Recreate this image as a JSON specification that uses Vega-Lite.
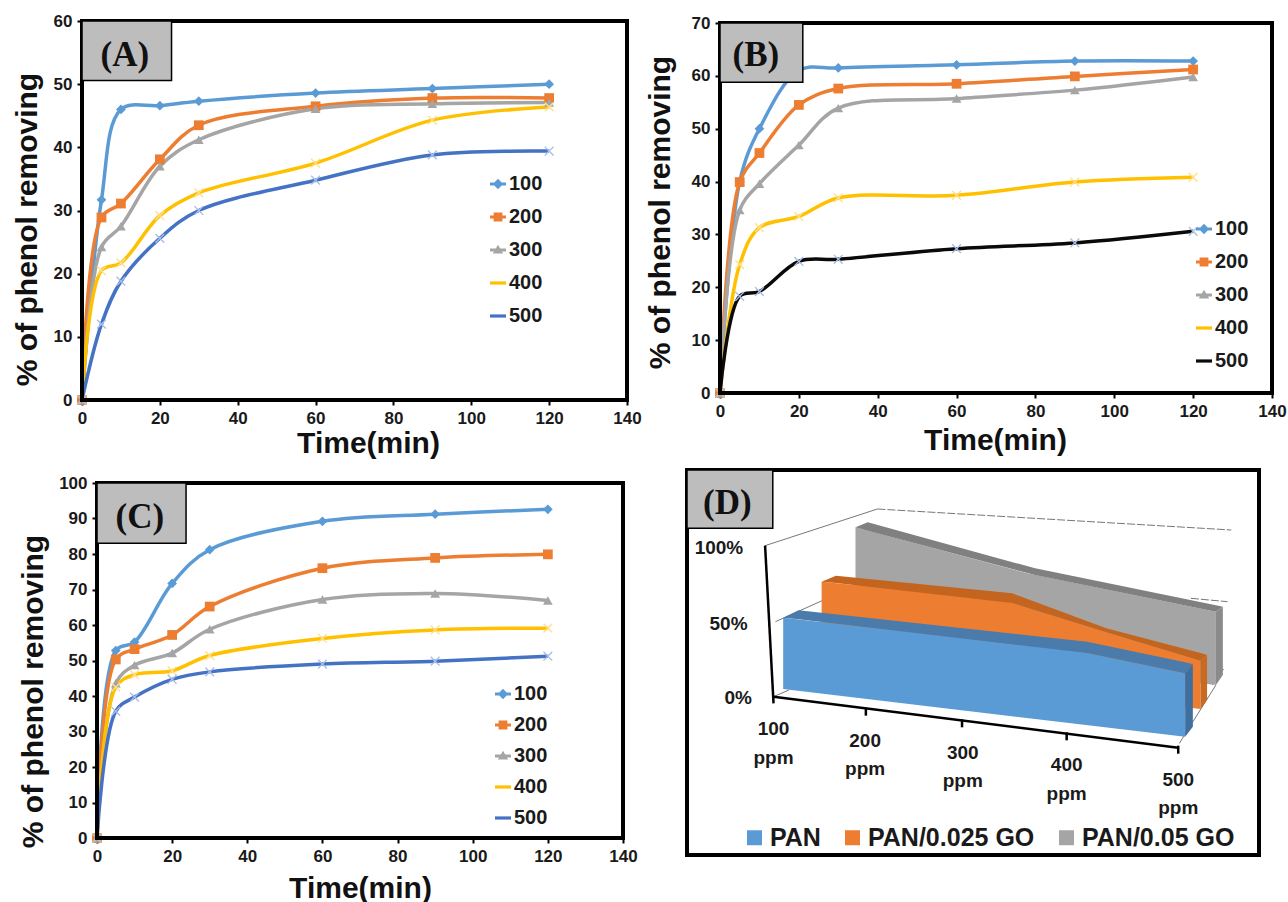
{
"$schema":"https://vega.github.io/schema/vega-lite/v6.json",
"background":"white",
"padding":{"left":12,"top":12,"right":0,"bottom":0},
"bounds":"flush",
"columns":2,
"spacing":{"row":70,"column":60},
"config":{
 "view":{"stroke":null},
 "font":"Liberation Sans",
 "axis":{"grid":false,"domain":false,"labelFont":"Liberation Sans","labelFontWeight":"bold","labelFontSize":17,"labelColor":"#1a1a1a","tickColor":"#000","tickSize":5,"tickWidth":2,"labelPadding":5,"labelFlush":false,"labelOverlap":false,"titleFont":"Liberation Sans","titleFontWeight":"bold","titleFontSize":30,"titleColor":"#111","titleAlign":"center","titleBaseline":"middle"},
 "legend":{"title":null,"orient":"none","labelFont":"Liberation Sans","labelFontWeight":"bold","labelFontSize":20,"labelColor":"#1a1a1a","labelLimit":400,"symbolSize":256,"symbolStrokeWidth":0,"labelOffset":1}
},
"datasets":{
"curves":[
{"panel":"A","series":"100","t":0,"v":0},{"panel":"A","series":"100","t":5,"v":31.7},{"panel":"A","series":"100","t":10,"v":46},{"panel":"A","series":"100","t":20,"v":46.6},{"panel":"A","series":"100","t":30,"v":47.3},{"panel":"A","series":"100","t":60,"v":48.6},{"panel":"A","series":"100","t":90,"v":49.3},{"panel":"A","series":"100","t":120,"v":50},
{"panel":"A","series":"200","t":0,"v":0},{"panel":"A","series":"200","t":5,"v":28.9},{"panel":"A","series":"200","t":10,"v":31.1},{"panel":"A","series":"200","t":20,"v":38.1},{"panel":"A","series":"200","t":30,"v":43.5},{"panel":"A","series":"200","t":60,"v":46.5},{"panel":"A","series":"200","t":90,"v":47.8},{"panel":"A","series":"200","t":120,"v":47.8},
{"panel":"A","series":"300","t":0,"v":0},{"panel":"A","series":"300","t":5,"v":24.2},{"panel":"A","series":"300","t":10,"v":27.5},{"panel":"A","series":"300","t":20,"v":37},{"panel":"A","series":"300","t":30,"v":41.2},{"panel":"A","series":"300","t":60,"v":46.1},{"panel":"A","series":"300","t":90,"v":46.9},{"panel":"A","series":"300","t":120,"v":47.1},
{"panel":"A","series":"400","t":0,"v":0},{"panel":"A","series":"400","t":5,"v":20.5},{"panel":"A","series":"400","t":10,"v":21.7},{"panel":"A","series":"400","t":20,"v":29.2},{"panel":"A","series":"400","t":30,"v":32.8},{"panel":"A","series":"400","t":60,"v":37.5},{"panel":"A","series":"400","t":90,"v":44.3},{"panel":"A","series":"400","t":120,"v":46.4},
{"panel":"A","series":"500","t":0,"v":0},{"panel":"A","series":"500","t":5,"v":12},{"panel":"A","series":"500","t":10,"v":18.8},{"panel":"A","series":"500","t":20,"v":25.6},{"panel":"A","series":"500","t":30,"v":30},{"panel":"A","series":"500","t":60,"v":34.8},{"panel":"A","series":"500","t":90,"v":38.8},{"panel":"A","series":"500","t":120,"v":39.4},
{"panel":"B","series":"100","t":0,"v":0},{"panel":"B","series":"100","t":5,"v":40},{"panel":"B","series":"100","t":10,"v":50},{"panel":"B","series":"100","t":20,"v":61},{"panel":"B","series":"100","t":30,"v":61.5},{"panel":"B","series":"100","t":60,"v":62.1},{"panel":"B","series":"100","t":90,"v":62.8},{"panel":"B","series":"100","t":120,"v":62.8},
{"panel":"B","series":"200","t":0,"v":0},{"panel":"B","series":"200","t":5,"v":39.9},{"panel":"B","series":"200","t":10,"v":45.4},{"panel":"B","series":"200","t":20,"v":54.5},{"panel":"B","series":"200","t":30,"v":57.6},{"panel":"B","series":"200","t":60,"v":58.5},{"panel":"B","series":"200","t":90,"v":59.9},{"panel":"B","series":"200","t":120,"v":61.2},
{"panel":"B","series":"300","t":0,"v":0},{"panel":"B","series":"300","t":5,"v":34.6},{"panel":"B","series":"300","t":10,"v":39.6},{"panel":"B","series":"300","t":20,"v":46.9},{"panel":"B","series":"300","t":30,"v":53.9},{"panel":"B","series":"300","t":60,"v":55.7},{"panel":"B","series":"300","t":90,"v":57.3},{"panel":"B","series":"300","t":120,"v":59.8},
{"panel":"B","series":"400","t":0,"v":0},{"panel":"B","series":"400","t":5,"v":24.3},{"panel":"B","series":"400","t":10,"v":31.3},{"panel":"B","series":"400","t":20,"v":33.4},{"panel":"B","series":"400","t":30,"v":36.9},{"panel":"B","series":"400","t":60,"v":37.4},{"panel":"B","series":"400","t":90,"v":39.9},{"panel":"B","series":"400","t":120,"v":40.8},
{"panel":"B","series":"500","t":0,"v":0},{"panel":"B","series":"500","t":5,"v":18.3},{"panel":"B","series":"500","t":10,"v":19.2},{"panel":"B","series":"500","t":20,"v":24.9},{"panel":"B","series":"500","t":30,"v":25.3},{"panel":"B","series":"500","t":60,"v":27.3},{"panel":"B","series":"500","t":90,"v":28.4},{"panel":"B","series":"500","t":120,"v":30.6},
{"panel":"C","series":"100","t":0,"v":0},{"panel":"C","series":"100","t":5,"v":52.8},{"panel":"C","series":"100","t":10,"v":55.2},{"panel":"C","series":"100","t":20,"v":71.7},{"panel":"C","series":"100","t":30,"v":81.2},{"panel":"C","series":"100","t":60,"v":89.2},{"panel":"C","series":"100","t":90,"v":91.2},{"panel":"C","series":"100","t":120,"v":92.6},
{"panel":"C","series":"200","t":0,"v":0},{"panel":"C","series":"200","t":5,"v":50.3},{"panel":"C","series":"200","t":10,"v":53.2},{"panel":"C","series":"200","t":20,"v":57.2},{"panel":"C","series":"200","t":30,"v":65.2},{"panel":"C","series":"200","t":60,"v":76},{"panel":"C","series":"200","t":90,"v":78.9},{"panel":"C","series":"200","t":120,"v":79.9},
{"panel":"C","series":"300","t":0,"v":0},{"panel":"C","series":"300","t":5,"v":43.6},{"panel":"C","series":"300","t":10,"v":48.7},{"panel":"C","series":"300","t":20,"v":52.1},{"panel":"C","series":"300","t":30,"v":58.8},{"panel":"C","series":"300","t":60,"v":67.2},{"panel":"C","series":"300","t":90,"v":68.9},{"panel":"C","series":"300","t":120,"v":66.9},
{"panel":"C","series":"400","t":0,"v":0},{"panel":"C","series":"400","t":5,"v":42.5},{"panel":"C","series":"400","t":10,"v":46},{"panel":"C","series":"400","t":20,"v":47.1},{"panel":"C","series":"400","t":30,"v":51.4},{"panel":"C","series":"400","t":60,"v":56.2},{"panel":"C","series":"400","t":90,"v":58.6},{"panel":"C","series":"400","t":120,"v":59.1},
{"panel":"C","series":"500","t":0,"v":0},{"panel":"C","series":"500","t":5,"v":35.7},{"panel":"C","series":"500","t":10,"v":39.7},{"panel":"C","series":"500","t":20,"v":44.7},{"panel":"C","series":"500","t":30,"v":46.8},{"panel":"C","series":"500","t":60,"v":49},{"panel":"C","series":"500","t":90,"v":49.8},{"panel":"C","series":"500","t":120,"v":51.2}
],
"tags":[
{"panel":"A","kind":"frame","t":0,"t2":140,"v":0,"v2":60},{"panel":"A","kind":"box","t":0,"t2":23,"v":50.6,"v2":60},{"panel":"A","kind":"label","t":11,"v":54.6,"label":"(A)"},
{"panel":"B","kind":"frame","t":0,"t2":140,"v":0,"v2":70},{"panel":"B","kind":"box","t":0,"t2":21,"v":58.8,"v2":70},{"panel":"B","kind":"label","t":9.1,"v":64,"label":"(B)"},
{"panel":"C","kind":"frame","t":0,"t2":140,"v":0,"v2":100},{"panel":"C","kind":"box","t":0,"t2":23.7,"v":83,"v2":100},{"panel":"C","kind":"label","t":11.4,"v":90.4,"label":"(C)"},
{"panel":"D","kind":"frame","a":45,"a2":1532,"b":35,"b2":1190},{"panel":"D","kind":"box","a":45,"a2":268,"b":35,"b2":210},{"panel":"D","kind":"label","a":150,"b":135,"label":"(D)"}
],
"slabs":[
{"part":"PAN/0.05 GO","a":483,"b":207,"b2":552},{"part":"PAN/0.05 GO","a":930,"b":345,"b2":613},{"part":"PAN/0.05 GO","a":1420,"b":460,"b2":680},
{"part":"PAN/0.05 GO top","a":483,"b":207,"b2":207},{"part":"PAN/0.05 GO top","a":515,"b":192,"b2":217},{"part":"PAN/0.05 GO top","a":950,"b":330,"b2":350},{"part":"PAN/0.05 GO top","a":1420,"b":441,"b2":460},{"part":"PAN/0.05 GO top","a":1438,"b":445,"b2":445},
{"part":"PAN/0.05 GO side","a":1420,"b":460,"b2":680},{"part":"PAN/0.05 GO side","a":1438,"b":445,"b2":650},
{"part":"PAN/0.025 GO","a":395,"b":370,"b2":618},{"part":"PAN/0.025 GO","a":865,"b":425,"b2":682},{"part":"PAN/0.025 GO","a":1130,"b":520,"b2":718},{"part":"PAN/0.025 GO","a":1380,"b":607,"b2":752},
{"part":"PAN/0.025 GO top","a":395,"b":370,"b2":370},{"part":"PAN/0.025 GO top","a":432,"b":352,"b2":374},{"part":"PAN/0.025 GO top","a":890,"b":405,"b2":434},{"part":"PAN/0.025 GO top","a":1135,"b":510,"b2":522},{"part":"PAN/0.025 GO top","a":1380,"b":584,"b2":607},{"part":"PAN/0.025 GO top","a":1397,"b":590,"b2":590},
{"part":"PAN/0.025 GO side","a":1380,"b":607,"b2":752},{"part":"PAN/0.025 GO side","a":1397,"b":590,"b2":725},
{"part":"PAN","a":295,"b":478,"b2":692},{"part":"PAN","a":1060,"b":578,"b2":797},{"part":"PAN","a":1340,"b":645,"b2":835},
{"part":"PAN top","a":295,"b":478,"b2":478},{"part":"PAN top","a":335,"b":456,"b2":483},{"part":"PAN top","a":1085,"b":550,"b2":584},{"part":"PAN top","a":1340,"b":612,"b2":645},{"part":"PAN top","a":1360,"b":618,"b2":618},
{"part":"PAN side","a":1340,"b":645,"b2":835},{"part":"PAN side","a":1360,"b":618,"b2":805}
],
"wires":[
{"kind":"thin","seg":"w1","k":0,"a":248,"b":262},{"kind":"thin","seg":"w1","k":1,"a":540,"b":152},
{"kind":"dash","seg":"w2","k":0,"a":540,"b":152},{"kind":"dash","seg":"w2","k":1,"a":1460,"b":215},
{"kind":"thin","seg":"w3","k":0,"a":275,"b":490},{"kind":"thin","seg":"w3","k":1,"a":400,"b":425},
{"kind":"dash","seg":"w4","k":0,"a":1355,"b":420},{"kind":"dash","seg":"w4","k":1,"a":1450,"b":430},
{"kind":"thin","seg":"w5","k":0,"a":1410,"b":680},{"kind":"thin","seg":"w5","k":1,"a":1440,"b":632},
{"kind":"thin","seg":"w6","k":0,"a":1325,"b":855},{"kind":"thin","seg":"w6","k":1,"a":1420,"b":680},
{"kind":"thin","seg":"w7","k":0,"a":270,"b":715},{"kind":"thin","seg":"w7","k":1,"a":310,"b":695},
{"kind":"axis","seg":"a1","k":0,"a":248,"b":262},{"kind":"axis","seg":"a1","k":1,"a":270,"b":735},
{"kind":"axis","seg":"a2","k":0,"a":270,"b":715},{"kind":"axis","seg":"a2","k":1,"a":1322,"b":868},
{"kind":"axis","seg":"t2","k":0,"a":510,"b":748},{"kind":"axis","seg":"t2","k":1,"a":510,"b":772},
{"kind":"axis","seg":"t3","k":0,"a":760,"b":783},{"kind":"axis","seg":"t3","k":1,"a":760,"b":807},
{"kind":"axis","seg":"t4","k":0,"a":1032,"b":822},{"kind":"axis","seg":"t4","k":1,"a":1032,"b":846},
{"kind":"axis","seg":"t5","k":0,"a":1322,"b":862},{"kind":"axis","seg":"t5","k":1,"a":1322,"b":886}
],
"words":[
{"a":128,"b":268,"label":"100%"},{"a":153,"b":497,"label":"50%"},{"a":178,"b":718,"label":"0%"},
{"a":270,"b":812,"label":"100"},{"a":270,"b":898,"label":"ppm"},
{"a":508,"b":848,"label":"200"},{"a":508,"b":933,"label":"ppm"},
{"a":762,"b":883,"label":"300"},{"a":762,"b":968,"label":"ppm"},
{"a":1032,"b":920,"label":"400"},{"a":1032,"b":1006,"label":"ppm"},
{"a":1322,"b":965,"label":"500"},{"a":1322,"b":1050,"label":"ppm"}
]
},
"concat":[
{"width":545,"height":379,"resolve":{"scale":{"color":"independent","shape":"independent"}},
 "encoding":{"x":{"field":"t","type":"quantitative","scale":{"domain":[0,140]},"title":"Time(min)","axis":{"values":[0,20,40,60,80,100,120,140],"titleX":286,"titleY":43}},
   "y":{"field":"v","type":"quantitative","scale":{"domain":[0,60]},"title":"% of phenol removing","axis":{"values":[0,10,20,30,40,50,60],"titleX":-55,"titleY":208}}},
 "layer":[
 {"data":{"name":"curves"},"transform":[{"filter":"datum.panel==='A'"}],"mark":{"type":"line","interpolate":"catmull-rom","strokeWidth":3.5},
  "encoding":{"color":{"field":"series","type":"nominal","legend":null,"scale":{"domain":["100","200","300","400","500"],"range":["#5B9BD5","#ED7D31","#A5A5A5","#FFC000","#4472C4"]}}}},
 {"data":{"name":"curves"},"transform":[{"filter":"datum.panel==='A'"}],"mark":{"type":"point","filled":true,"opacity":1,"size":95},
  "encoding":{"color":{"field":"series","type":"nominal","legend":null,"scale":{"domain":["100","200","300","400","500"],"range":["#5B9BD5","#ED7D31","#A5A5A5","#FFE08A","#A9BEE6"]}},
   "shape":{"field":"series","type":"nominal","legend":null,"scale":{"domain":["100","200","300","400","500"],"range":["diamond","square","triangle-up","M-1,-.8L-.8,-1L0,-.2L.8,-1L1,-.8L.2,0L1,.8L.8,1L0,.2L-.8,1L-1,.8L-.2,0Z","M-1,-.8L-.8,-1L0,-.2L.8,-1L1,-.8L.2,0L1,.8L.8,1L0,.2L-.8,1L-1,.8L-.2,0Z"]}}}},
 {"data":{"name":"curves"},"transform":[{"filter":"datum.panel==='A'"}],"mark":{"type":"point","filled":true,"opacity":1,"size":0},
  "encoding":{"color":{"field":"series","type":"nominal","scale":{"domain":["100","200","300","400","500"],"range":["#5B9BD5","#ED7D31","#A5A5A5","#FFC000","#4472C4"]},"legend":{"legendX":406,"legendY":153,"rowPadding":13}},
   "shape":{"field":"series","type":"nominal","scale":{"domain":["100","200","300","400","500"],"range":["M-1,-.2L1,-.2L1,.2L-1,.2ZM0,-.65L.65,0L0,.65L-.65,0Z","M-1,-.2L1,-.2L1,.2L-1,.2ZM-.55,-.55L.55,-.55L.55,.55L-.55,.55Z","M-1,-.2L1,-.2L1,.2L-1,.2ZM0,-.65L.65,.45L-.65,.45Z","M-1,-.2L1,-.2L1,.2L-1,.2Z","M-1,-.2L1,-.2L1,.2L-1,.2Z"]},"legend":{"legendX":406,"legendY":153,"rowPadding":13}}}},
 {"data":{"name":"tags"},"transform":[{"filter":"datum.panel==='A'&&datum.kind==='frame'"}],"mark":{"type":"rect","fill":null,"stroke":"#000","strokeWidth":4},"encoding":{"x2":{"field":"t2"},"y2":{"field":"v2"}}},
 {"data":{"name":"tags"},"transform":[{"filter":"datum.panel==='A'&&datum.kind==='box'"}],"mark":{"type":"rect","fill":"#BDBDBD","stroke":"#000","strokeWidth":1.5},"encoding":{"x2":{"field":"t2"},"y2":{"field":"v2"}}},
 {"data":{"name":"tags"},"transform":[{"filter":"datum.panel==='A'&&datum.kind==='label'"}],"mark":{"type":"text","font":"Liberation Serif","fontWeight":"bold","fontSize":35,"color":"#111"},"encoding":{"text":{"field":"label"}}}
]},
{"width":585,"height":379,"resolve":{"scale":{"color":"independent","shape":"independent"}},
 "encoding":{"x":{"field":"t","type":"quantitative","scale":{"domain":[0,140],"range":[33,585]},"title":"Time(min)","axis":{"values":[0,20,40,60,80,100,120,140],"offset":-7,"titleX":308,"titleY":47}},
   "y":{"field":"v","type":"quantitative","scale":{"domain":[0,70],"range":[372,2]},"title":"% of phenol removing","axis":{"values":[0,10,20,30,40,50,60,70],"offset":-33,"titleX":-60,"titleY":191}}},
 "layer":[
 {"data":{"name":"curves"},"transform":[{"filter":"datum.panel==='B'"}],"mark":{"type":"line","interpolate":"catmull-rom","strokeWidth":3.5},
  "encoding":{"color":{"field":"series","type":"nominal","legend":null,"scale":{"domain":["100","200","300","400","500"],"range":["#5B9BD5","#ED7D31","#A5A5A5","#FFC000","#0A0A0A"]}}}},
 {"data":{"name":"curves"},"transform":[{"filter":"datum.panel==='B'"}],"mark":{"type":"point","filled":true,"opacity":1,"size":95},
  "encoding":{"color":{"field":"series","type":"nominal","legend":null,"scale":{"domain":["100","200","300","400","500"],"range":["#5B9BD5","#ED7D31","#A5A5A5","#FFE08A","#A9BEE6"]}},
   "shape":{"field":"series","type":"nominal","legend":null,"scale":{"domain":["100","200","300","400","500"],"range":["diamond","square","triangle-up","M-1,-.8L-.8,-1L0,-.2L.8,-1L1,-.8L.2,0L1,.8L.8,1L0,.2L-.8,1L-1,.8L-.2,0Z","M-1,-.8L-.8,-1L0,-.2L.8,-1L1,-.8L.2,0L1,.8L.8,1L0,.2L-.8,1L-1,.8L-.2,0Z"]}}}},
 {"data":{"name":"curves"},"transform":[{"filter":"datum.panel==='B'"}],"mark":{"type":"point","filled":true,"opacity":1,"size":0},
  "encoding":{"color":{"field":"series","type":"nominal","scale":{"domain":["100","200","300","400","500"],"range":["#5B9BD5","#ED7D31","#A5A5A5","#FFC000","#0A0A0A"]},"legend":{"legendX":507,"legendY":198,"rowPadding":13}},
   "shape":{"field":"series","type":"nominal","scale":{"domain":["100","200","300","400","500"],"range":["M-1,-.2L1,-.2L1,.2L-1,.2ZM0,-.65L.65,0L0,.65L-.65,0Z","M-1,-.2L1,-.2L1,.2L-1,.2ZM-.55,-.55L.55,-.55L.55,.55L-.55,.55Z","M-1,-.2L1,-.2L1,.2L-1,.2ZM0,-.65L.65,.45L-.65,.45Z","M-1,-.2L1,-.2L1,.2L-1,.2Z","M-1,-.2L1,-.2L1,.2L-1,.2Z"]},"legend":{"legendX":507,"legendY":198,"rowPadding":13}}}},
 {"data":{"name":"tags"},"transform":[{"filter":"datum.panel==='B'&&datum.kind==='frame'"}],"mark":{"type":"rect","fill":null,"stroke":"#000","strokeWidth":4},"encoding":{"x2":{"field":"t2"},"y2":{"field":"v2"}}},
 {"data":{"name":"tags"},"transform":[{"filter":"datum.panel==='B'&&datum.kind==='box'"}],"mark":{"type":"rect","fill":"#BDBDBD","stroke":"#000","strokeWidth":1.5},"encoding":{"x2":{"field":"t2"},"y2":{"field":"v2"}}},
 {"data":{"name":"tags"},"transform":[{"filter":"datum.panel==='B'&&datum.kind==='label'"}],"mark":{"type":"text","font":"Liberation Serif","fontWeight":"bold","fontSize":35,"color":"#111"},"encoding":{"text":{"field":"label"}}}
]},
{"width":545,"height":385,"resolve":{"scale":{"color":"independent","shape":"independent"}},
 "encoding":{"x":{"field":"t","type":"quantitative","scale":{"domain":[0,140],"range":[15,541]},"title":"Time(min)","axis":{"values":[0,20,40,60,80,100,120,140],"offset":-17,"titleX":278,"titleY":50}},
   "y":{"field":"v","type":"quantitative","scale":{"domain":[0,100],"range":[368,13]},"title":"% of phenol removing","axis":{"values":[0,10,20,30,40,50,60,70,80,90,100],"offset":-15,"titleX":-64,"titleY":221}}},
 "layer":[
 {"data":{"name":"curves"},"transform":[{"filter":"datum.panel==='C'"}],"mark":{"type":"line","interpolate":"catmull-rom","strokeWidth":3.5},
  "encoding":{"color":{"field":"series","type":"nominal","legend":null,"scale":{"domain":["100","200","300","400","500"],"range":["#5B9BD5","#ED7D31","#A5A5A5","#FFC000","#4472C4"]}}}},
 {"data":{"name":"curves"},"transform":[{"filter":"datum.panel==='C'"}],"mark":{"type":"point","filled":true,"opacity":1,"size":95},
  "encoding":{"color":{"field":"series","type":"nominal","legend":null,"scale":{"domain":["100","200","300","400","500"],"range":["#5B9BD5","#ED7D31","#A5A5A5","#FFE08A","#A9BEE6"]}},
   "shape":{"field":"series","type":"nominal","legend":null,"scale":{"domain":["100","200","300","400","500"],"range":["diamond","square","triangle-up","M-1,-.8L-.8,-1L0,-.2L.8,-1L1,-.8L.2,0L1,.8L.8,1L0,.2L-.8,1L-1,.8L-.2,0Z","M-1,-.8L-.8,-1L0,-.2L.8,-1L1,-.8L.2,0L1,.8L.8,1L0,.2L-.8,1L-1,.8L-.2,0Z"]}}}},
 {"data":{"name":"curves"},"transform":[{"filter":"datum.panel==='C'"}],"mark":{"type":"point","filled":true,"opacity":1,"size":0},
  "encoding":{"color":{"field":"series","type":"nominal","scale":{"domain":["100","200","300","400","500"],"range":["#5B9BD5","#ED7D31","#A5A5A5","#FFC000","#4472C4"]},"legend":{"legendX":411,"legendY":214,"rowPadding":11}},
   "shape":{"field":"series","type":"nominal","scale":{"domain":["100","200","300","400","500"],"range":["M-1,-.2L1,-.2L1,.2L-1,.2ZM0,-.65L.65,0L0,.65L-.65,0Z","M-1,-.2L1,-.2L1,.2L-1,.2ZM-.55,-.55L.55,-.55L.55,.55L-.55,.55Z","M-1,-.2L1,-.2L1,.2L-1,.2ZM0,-.65L.65,.45L-.65,.45Z","M-1,-.2L1,-.2L1,.2L-1,.2Z","M-1,-.2L1,-.2L1,.2L-1,.2Z"]},"legend":{"legendX":411,"legendY":214,"rowPadding":11}}}},
 {"data":{"name":"tags"},"transform":[{"filter":"datum.panel==='C'&&datum.kind==='frame'"}],"mark":{"type":"rect","fill":null,"stroke":"#000","strokeWidth":4},"encoding":{"x2":{"field":"t2"},"y2":{"field":"v2"}}},
 {"data":{"name":"tags"},"transform":[{"filter":"datum.panel==='C'&&datum.kind==='box'"}],"mark":{"type":"rect","fill":"#BDBDBD","stroke":"#000","strokeWidth":1.5},"encoding":{"x2":{"field":"t2"},"y2":{"field":"v2"}}},
 {"data":{"name":"tags"},"transform":[{"filter":"datum.panel==='C'&&datum.kind==='label'"}],"mark":{"type":"text","font":"Liberation Serif","fontWeight":"bold","fontSize":35,"color":"#111"},"encoding":{"text":{"field":"label"}}}
]},
{"width":585,"height":385,"resolve":{"scale":{"color":"independent"}},
 "encoding":{"x":{"field":"a","type":"quantitative","scale":{"domain":[45,1532],"range":[0,572]},"axis":null},"y":{"field":"b","type":"quantitative","stack":null,"scale":{"domain":[35,1190],"range":[0,385]},"axis":null}},
 "layer":[
 {"data":{"name":"wires"},"transform":[{"filter":"datum.kind==='thin'"}],"mark":{"type":"line","color":"#777","strokeWidth":1},
  "encoding":{"detail":{"field":"seg"},"order":{"field":"k"}}},
 {"data":{"name":"wires"},"transform":[{"filter":"datum.kind==='dash'"}],"mark":{"type":"line","color":"#777","strokeWidth":1,"strokeDash":[8,2]},
  "encoding":{"detail":{"field":"seg"},"order":{"field":"k"}}},
 {"data":{"name":"slabs"},"mark":{"type":"area","opacity":1},
  "encoding":{"y2":{"field":"b2"},
   "color":{"field":"part","type":"nominal","scale":{"domain":["PAN","PAN/0.025 GO","PAN/0.05 GO","PAN top","PAN side","PAN/0.025 GO top","PAN/0.025 GO side","PAN/0.05 GO top","PAN/0.05 GO side"],"range":["#5B9BD5","#ED7D31","#A5A5A5","#4A7BAA","#3F6F9E","#C4651F","#C96A22","#808080","#8A8A8A"]},
    "legend":{"values":["PAN","PAN/0.025 GO","PAN/0.05 GO"],"legendX":55,"legendY":355,"direction":"horizontal","columns":3,"columnPadding":19,"symbolType":"square","symbolSize":225,"labelFontSize":25,"labelOffset":3,"labelLimit":400}}}},
 {"data":{"name":"wires"},"transform":[{"filter":"datum.kind==='axis'"}],"mark":{"type":"line","color":"#000","strokeWidth":2.5},
  "encoding":{"detail":{"field":"seg"},"order":{"field":"k"}}},
 {"data":{"name":"words"},"mark":{"type":"text","fontWeight":"bold","fontSize":19,"color":"#1a1a1a"},"encoding":{"text":{"field":"label"}}},
 {"data":{"name":"tags"},"transform":[{"filter":"datum.panel==='D'&&datum.kind==='frame'"}],"mark":{"type":"rect","fill":null,"stroke":"#000","strokeWidth":4},"encoding":{"x2":{"field":"a2"},"y2":{"field":"b2"}}},
 {"data":{"name":"tags"},"transform":[{"filter":"datum.panel==='D'&&datum.kind==='box'"}],"mark":{"type":"rect","fill":"#BDBDBD","stroke":"#000","strokeWidth":1.5},"encoding":{"x2":{"field":"a2"},"y2":{"field":"b2"}}},
 {"data":{"name":"tags"},"transform":[{"filter":"datum.panel==='D'&&datum.kind==='label'"}],"mark":{"type":"text","font":"Liberation Serif","fontWeight":"bold","fontSize":35,"color":"#111"},"encoding":{"text":{"field":"label"}}}
]}
]
}
